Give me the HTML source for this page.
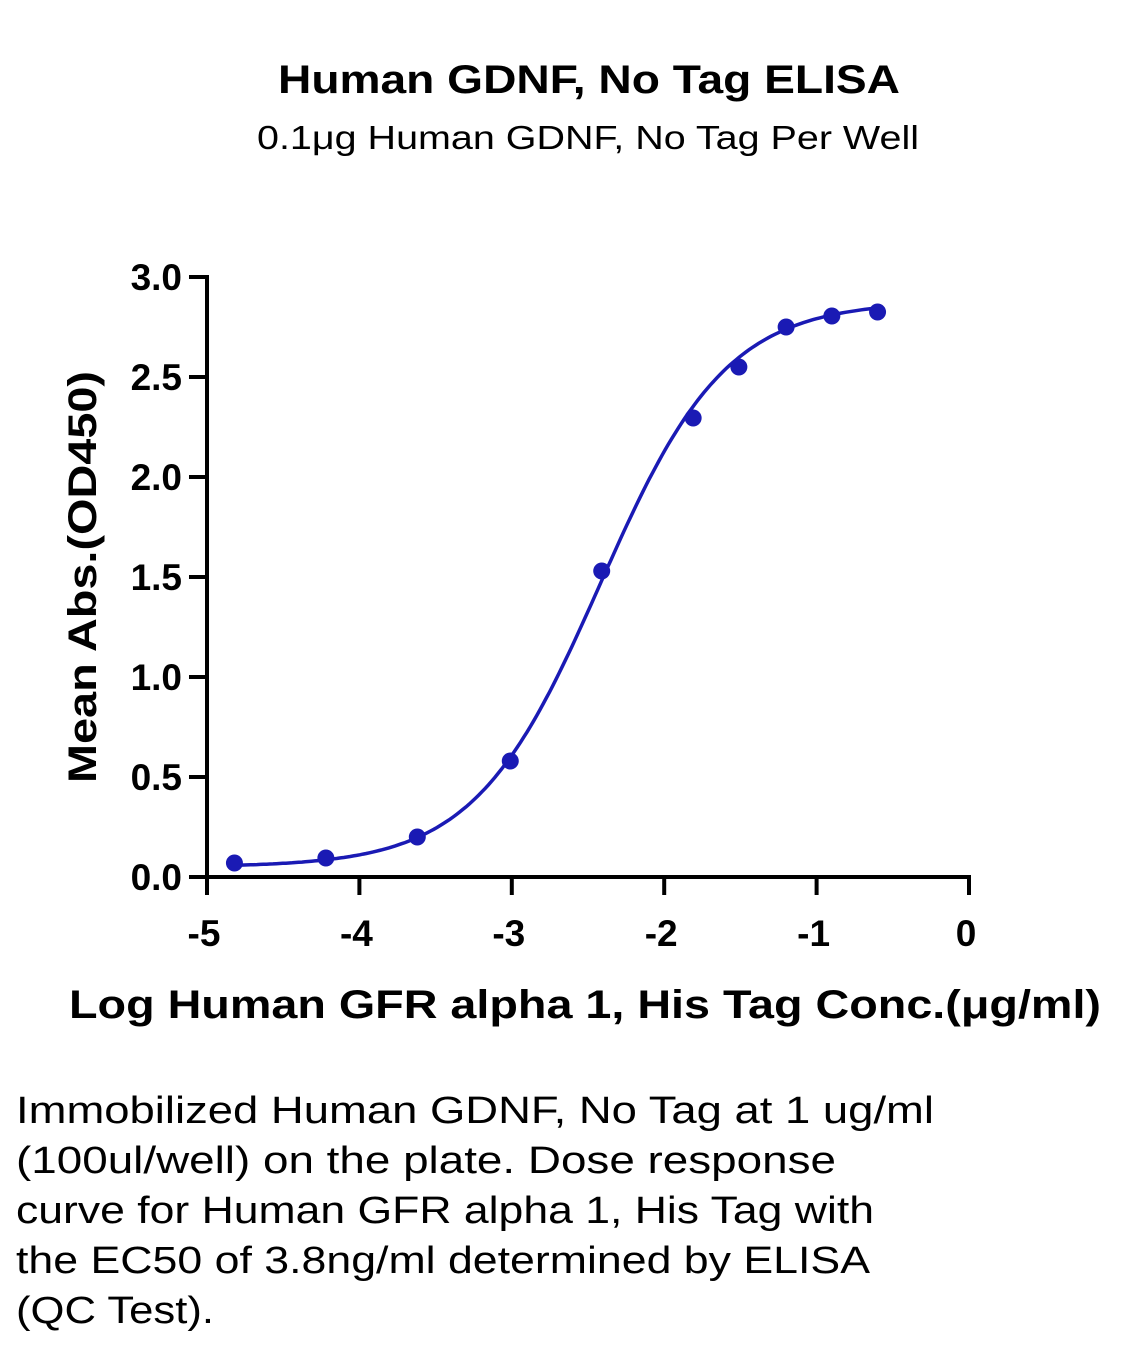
<!DOCTYPE html>
<html><head><meta charset="utf-8"><style>
html,body{margin:0;padding:0;background:#fff;}
svg{display:block;font-family:"Liberation Sans",sans-serif;}
</style></head><body>
<svg id="chart" width="1148" height="1346" viewBox="0 0 1148 1346">
<text x="589" y="93" text-anchor="middle" font-size="40" font-weight="bold" textLength="622" lengthAdjust="spacingAndGlyphs">Human GDNF, No Tag ELISA</text>
<text x="588" y="149" text-anchor="middle" font-size="33" textLength="662" lengthAdjust="spacingAndGlyphs">0.1μg Human GDNF, No Tag Per Well</text>
<g id="axes"></g>
<g id="marks"></g>
<text x="585" y="1018" text-anchor="middle" font-size="40" font-weight="bold" textLength="1032" lengthAdjust="spacingAndGlyphs">Log Human GFR alpha 1, His Tag Conc.(μg/ml)</text>
<text transform="translate(96,577) rotate(-90)" text-anchor="middle" font-size="40" font-weight="bold" textLength="412" lengthAdjust="spacingAndGlyphs">Mean Abs.(OD450)</text>
<g font-size="38">
<text x="16" y="1123" textLength="918" lengthAdjust="spacingAndGlyphs">Immobilized Human GDNF, No Tag at 1 ug/ml</text>
<text x="16" y="1173" textLength="820" lengthAdjust="spacingAndGlyphs">(100ul/well) on the plate. Dose response</text>
<text x="16" y="1223" textLength="858" lengthAdjust="spacingAndGlyphs">curve for Human GFR alpha 1, His Tag with</text>
<text x="16" y="1273" textLength="854" lengthAdjust="spacingAndGlyphs">the EC50 of 3.8ng/ml determined by ELISA</text>
<text x="16" y="1323" textLength="198" lengthAdjust="spacingAndGlyphs">(QC Test).</text>
</g>
</svg>
<script>
const xValues=[-4.82,-4.22,-3.62,-3.01,-2.41,-1.81,-1.51,-1.20,-0.90,-0.60];
const yValues=[0.07,0.095,0.20,0.58,1.53,2.295,2.55,2.75,2.805,2.825];
const xTicks=[-5,-4,-3,-2,-1,0];
const xTickLabels=["-5","-4","-3","-2","-1","0"];
const yTicks=[0,0.5,1,1.5,2,2.5,3];
const yTickLabels=["0.0","0.5","1.0","1.5","2.0","2.5","3.0"];
const fitBottom=0.05, fitTop=2.88, fitLogEC50=-2.42, fitHill=1.05;
const NS="http://www.w3.org/2000/svg";
const X=v=>207+(v+5)*152.4;
const Y=v=>877-v*200;
function mk(tag,attrs,parent){const e=document.createElementNS(NS,tag);for(const k in attrs)e.setAttribute(k,attrs[k]);parent.appendChild(e);return e;}
const axes=document.getElementById('axes'), marks=document.getElementById('marks');
let e=mk('line',{x1:207,y1:275,x2:207,y2:879,stroke:'#000','stroke-width':4},axes);


e=mk('line',{x1:205,y1:877,x2:971,y2:877,stroke:'#000','stroke-width':4},axes);


yTicks.forEach((t,i)=>{
  const l=mk('line',{x1:189,y1:Y(t),x2:207,y2:Y(t),stroke:'#000','stroke-width':4},axes);
  
  
  const tx=mk('text',{x:182,y:Y(t)+13,'text-anchor':'end','font-size':37,'font-weight':'bold'},axes);
  tx.textContent=yTickLabels[i];
  
  
});
xTicks.forEach((t,i)=>{
  const l=mk('line',{x1:X(t),y1:877,x2:X(t),y2:895,stroke:'#000','stroke-width':4},axes);
  
  
  const tx=mk('text',{x:X(t)-3,y:946,'text-anchor':'middle','font-size':37,'font-weight':'bold'},axes);
  tx.textContent=xTickLabels[i];
  
  
});
const f=x=>fitBottom+(fitTop-fitBottom)/(1+Math.pow(10,(fitLogEC50-x)*fitHill));
let d='';const x0=xValues[0],x1=xValues[xValues.length-1];
for(let i=0;i<=200;i++){const x=x0+(x1-x0)*i/200;d+=(i?'L':'M')+X(x).toFixed(1)+' '+Y(f(x)).toFixed(1);}
e=mk('path',{d:d,fill:'none',stroke:'#1a1ab4','stroke-width':3.5},marks);


xValues.forEach((x,i)=>{
  const c=mk('circle',{cx:X(x),cy:Y(yValues[i]),r:8.5,fill:'#1a1ab4'},marks);
  
  
});
</script>
</body></html>
